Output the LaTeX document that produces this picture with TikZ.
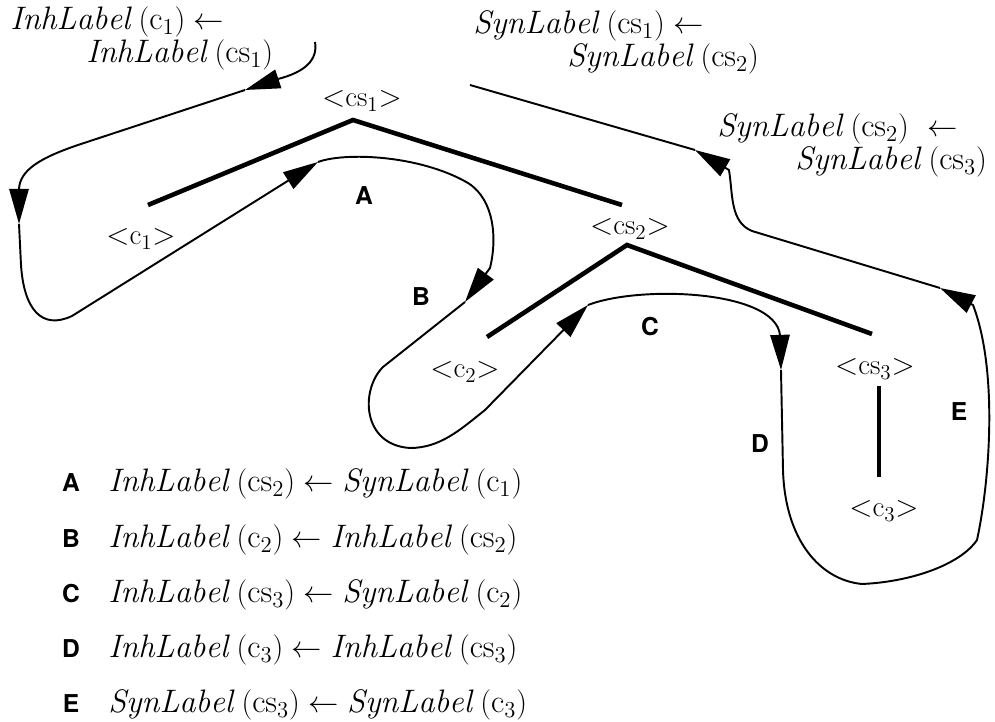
\documentclass[tikz,border=0pt]{standalone}
\usepackage{amsmath}
\usepackage{fontspec}
\setsansfont{TeX Gyre Heros}
\usepackage{tikz}
\usetikzlibrary{positioning, arrows.meta}

\newcommand{\InhL}[1]{\mathit{InhLabel}\;(\mathrm{#1})}
\newcommand{\SynL}[1]{\mathit{SynLabel}\;(\mathrm{#1})}

\begin{document}
\begin{tikzpicture}[
    x=0.02cm, y=-0.02cm,
    % Styles for the tree, the walk round it and the texts
    branch/.style={line width=2.6pt},
    walk/.style={line width=1.1pt, -{Triangle[length=20pt,width=11pt]}},
    walkend/.style={line width=1.1pt},
    treelab/.style={inner sep=0pt, font=\fontsize{16.5}{19}\selectfont},
    rulelab/.style={inner sep=0pt, anchor=base west, font=\fontsize{18.5}{21}\selectfont},
    steptag/.style={inner sep=0pt, font=\sffamily\bfseries\fontsize{14}{17}\selectfont}
]
\useasboundingbox (0,0) rectangle (995,722);

% ==========================================
% THE TREE
% ==========================================
% 1. Node labels
\node[treelab] (cs1_lbl) at (362,101) {${<}\mathrm{cs}_1{>}$};
\node[treelab] (c1_lbl)  at (141,239) {${<}\mathrm{c}_1{>}$};
\node[treelab] (cs2_lbl) at (630,229) {${<}\mathrm{cs}_2{>}$};
\node[treelab] (c2_lbl)  at (465,372) {${<}\mathrm{c}_2{>}$};
\node[treelab] (cs3_lbl) at (875,369) {${<}\mathrm{cs}_3{>}$};
\node[treelab] (c3_lbl)  at (884,511) {${<}\mathrm{c}_3{>}$};

% 2. Branch ends
\coordinate (cs1_top) at (353,120);
\coordinate (c1_end)  at (148,205);
\coordinate (cs2_end) at (622,205);
\coordinate (cs2_top) at (627,245);
\coordinate (c2_end)  at (487,337);
\coordinate (cs3_end) at (872,334);
\coordinate (cs3_bot) at (879,386);
\coordinate (c3_end)  at (879,477);

% 3. Branches
\draw[branch] (c1_end) -- (cs1_top) -- (cs2_end);
\draw[branch] (c2_end) -- (cs2_top) -- (cs3_end);
\draw[branch] (cs3_bot) -- (c3_end);

% ==========================================
% THE WALK ROUND THE TREE
% ==========================================
% 1. Arrow tips
\coordinate (walk_start) at (315,42);
\coordinate (walk_1) at (245,90);
\coordinate (walk_2) at (19,224);
\coordinate (walk_3) at (318,162);
\coordinate (walk_4) at (465,302);
\coordinate (walk_5) at (588,305);
\coordinate (walk_6) at (781,370);
\coordinate (walk_7) at (940,288);
\coordinate (walk_8) at (695,150);
\coordinate (walk_end) at (470,85);

% 2. The pieces between them
\draw[walk] (walk_start) .. controls (318,60) and (305,72) .. (278,79) -- (walk_1);
\draw[walk] (walk_1) -- (78,145) .. controls (40,158) and (20,170) .. (19,189) -- (walk_2);
\draw[walk] (walk_2) -- (21,265) .. controls (24,310) and (42,330) .. (72,316) -- (walk_3);
\draw[walk] (walk_3) .. controls (345,152) and (420,155) .. (468,183)
    .. controls (495,200) and (497,240) .. (490,268) -- (walk_4);
\draw[walk] (walk_4) -- (383,367) .. controls (360,390) and (362,445) .. (410,448)
    .. controls (440,448) and (460,430) .. (485,410) -- (walk_5);
\draw[walk] (walk_5) .. controls (640,285) and (775,290) .. (780,335) -- (walk_6);
\draw[walk] (walk_6) -- (783,470) .. controls (785,540) and (820,580) .. (862,584)
    .. controls (910,582) and (960,565) .. (977,540)
    .. controls (990,480) and (998,370) .. (973,305) -- (walk_7);
\draw[walk] (walk_7) -- (752,231) .. controls (730,222) and (733,195) .. (729,170) -- (walk_8);
\draw[walkend] (walk_8) -- (walk_end);

% 3. Step letters
\node[steptag] (step_a) at (364,196) {A};
\node[steptag] (step_b) at (421,297) {B};
\node[steptag] (step_c) at (650,327) {C};
\node[steptag] (step_d) at (760,444) {D};
\node[steptag] (step_e) at (959,412) {E};

% ==========================================
% THE RULES
% ==========================================
% 1. Rules written beside the walk
\node[rulelab] (inh_c1)  at (10,30)  {$\InhL{c_1} \leftarrow$};
\node[rulelab] (inh_cs1) at (86,63)  {$\InhL{cs_1}$};
\node[rulelab] (syn_cs1) at (473,34) {$\SynL{cs_1} \leftarrow$};
\node[rulelab] (syn_cs2) at (567,67) {$\SynL{cs_2}$};
\node[rulelab] (syn_cs2b) at (717,137) {$\SynL{cs_2}\ \leftarrow$};
\node[rulelab] (syn_cs3) at (795,170) {$\SynL{cs_3}$};

% 2. The list under the tree
\node[steptag, anchor=base] (key_a) at (71,492) {A};
\node[rulelab] (rule_a) at (108,492) {$\InhL{cs_2} \leftarrow \SynL{c_1}$};
\node[steptag, anchor=base] (key_b) at (71,548) {B};
\node[rulelab] (rule_b) at (108,548) {$\InhL{c_2} \leftarrow \InhL{cs_2}$};
\node[steptag, anchor=base] (key_c) at (71,603) {C};
\node[rulelab] (rule_c) at (108,603) {$\InhL{cs_3} \leftarrow \SynL{c_2}$};
\node[steptag, anchor=base] (key_d) at (71,658) {D};
\node[rulelab] (rule_d) at (108,658) {$\InhL{c_3} \leftarrow \InhL{cs_3}$};
\node[steptag, anchor=base] (key_e) at (71,713) {E};
\node[rulelab] (rule_e) at (108,713) {$\SynL{cs_3} \leftarrow \SynL{c_3}$};

\end{tikzpicture}
\end{document}
